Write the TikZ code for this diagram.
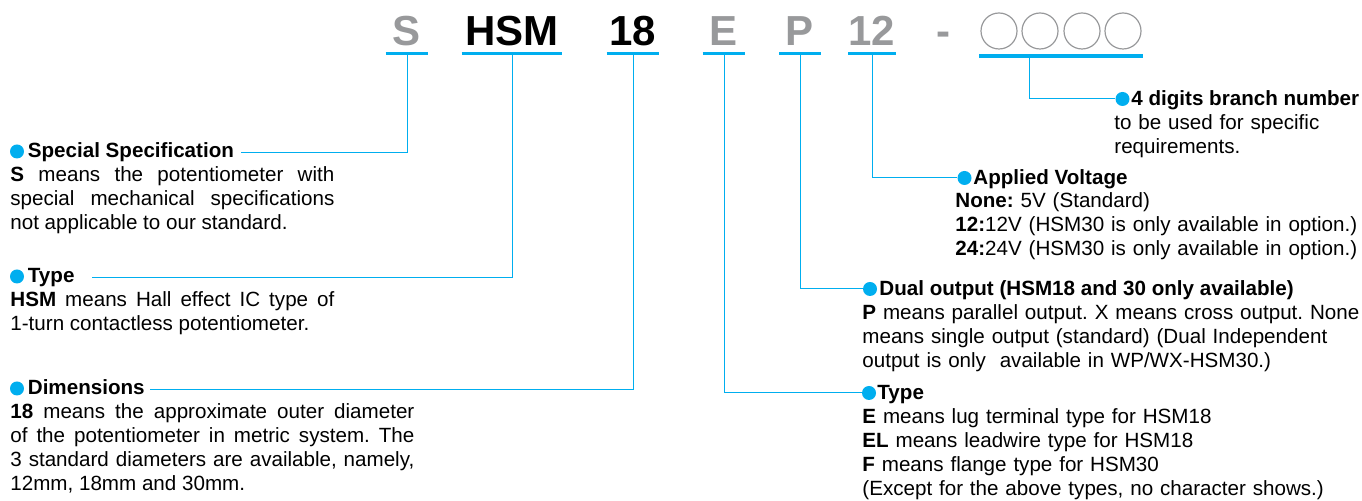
\documentclass[tikz,border=0pt]{standalone}
\usepackage{fontspec}
\setmainfont{Liberation Sans}
\frenchspacing

\definecolor{hallblue}{HTML}{00AEEF}
\definecolor{codegray}{HTML}{98999B}

\tikzset{
  code/.style={font=\fontsize{21}{25}\selectfont\bfseries, inner sep=0pt, anchor=base},
  slot/.style={circle, draw=codegray, line width=0.6pt, minimum size=18pt, inner sep=0pt},
  uline/.style={hallblue, line width=1.8pt},
  link/.style={hallblue, line width=0.5pt},
  bullet/.style={circle, fill=hallblue, inner sep=0pt, minimum size=7pt},
  head/.style={font=\fontsize{10.3}{12}\selectfont\bfseries, inner sep=0pt, anchor=base west,
    text height=7.4pt, text depth=2.2pt},
  body/.style={font=\fontsize{10.3}{12}\selectfont, inner sep=0pt, anchor=base west},
  justbody/.style={body, align=justify, text width=#1},
  ragbody/.style={body, align=left, text width=#1}
}

\begin{document}
\begin{tikzpicture}[x=0.5pt, y=-0.5pt]
  \useasboundingbox (0,0) rectangle (1362,501);

  % part number
  \node[code, text=codegray, minimum width=21pt] (cS) at (407,46) {S};
  \node[code, minimum width=50pt] (cHSM) at (512,46) {HSM};
  \node[code, minimum width=26pt] (c18) at (633,46) {18};
  \node[code, text=codegray, minimum width=21pt] (cE) at (724,46) {E};
  \node[code, text=codegray, minimum width=20.5pt] (cP) at (800,46) {P};
  \node[code, text=codegray, minimum width=20.5pt] (c12) at (872,46) {12};
  \node[code, text=codegray] (cDash) at (943,46) {-};
  \foreach \i/\x in {1/999,2/1040,3/1082,4/1123}
    \node[slot] (cB\i) at (\x,31) {};

  \foreach \n in {cS,cHSM,c18,cE,cP,c12}
    \draw[uline] ([yshift=-3.75pt]\n.base west) -- ([yshift=-3.75pt]\n.base east);
  \draw[uline] ([xshift=-0.5pt,yshift=-12.5pt]cB1.west) -- ([xshift=0.5pt,yshift=-12.5pt]cB4.east);

  % left side
  \node[bullet] (dSpec) at (17,151.5) {};
  \node[head] (hSpec) at (27.5,158) {Special Specification};
  \node[justbody=162pt] (bSpec) at (10,182)
    {\textbf{S} means the potentiometer with\linebreak special mechanical specifications\linebreak not applicable to our standard.};

  \node[bullet] (dType) at (17,276.5) {};
  \node[head] (hType) at (27.5,283) {Type};
  \node[justbody=162pt] (bType) at (10,307)
    {\textbf{HSM} means Hall effect IC type of\linebreak 1-turn contactless potentiometer.};

  \node[bullet] (dDim) at (17,388.5) {};
  \node[head] (hDim) at (27.5,395) {Dimensions};
  \node[justbody=202pt] (bDim) at (10,419)
    {\textbf{18} means the approximate outer diameter\linebreak of the potentiometer in metric system. The\linebreak 3 standard diameters are available, namely,\linebreak 12mm, 18mm and 30mm.};

  \draw[link] ([yshift=-4.75pt]cS.base) |- ([xshift=3.5pt]hSpec.east);
  \draw[link] ([yshift=-4.75pt]cHSM.base) |- ([xshift=8.5pt]hType.east);
  \draw[link] ([yshift=-4.75pt]c18.base) |- ([xshift=2.5pt]hDim.east);

  % right side
  \node[bullet] (dBranch) at (1122.5,99) {};
  \node[head] (hBranch) at (1131,106) {4 digits branch number};
  \node[ragbody=200pt] (bBranch) at (1114,130) {to be used for specific\\requirements.};

  \node[bullet] (dVolt) at (964.5,178) {};
  \node[head] (hVolt) at (973,185) {Applied Voltage};
  \node[ragbody=240pt] (bVolt) at (955,208)
    {\textbf{None:} 5V (Standard)\\\textbf{12:}12V (HSM30 is only available in option.)\\\textbf{24:}24V (HSM30 is only available in option.)};

  \node[bullet] (dDual) at (870,289) {};
  \node[head] (hDual) at (879,296) {Dual output (HSM18 and 30 only available)};
  \node[ragbody=260pt] (bDual) at (862,320)
    {\textbf{P} means parallel output. X means cross output. None\\means single output (standard) (Dual Independent\\output is only\ \ available in WP/WX-HSM30.)};

  \node[bullet] (dTypeR) at (869,393) {};
  \node[head] (hTypeR) at (877,400) {Type};
  \node[ragbody=260pt] (bTypeR) at (862,424)
    {\textbf{E} means lug terminal type for HSM18\\\textbf{EL} means leadwire type for HSM18\\\textbf{F} means flange type for HSM30\\(Except for the above types, no character shows.)};

  \draw[link] ([shift={(30,25)}]cB1.center) |- (dBranch.west);
  \draw[link] ([yshift=-4.75pt]c12.base) |- (dVolt.west);
  \draw[link] ([yshift=-4.75pt]cP.base) |- (dDual.west);
  \draw[link] ([yshift=-4.75pt]cE.base) |- (dTypeR.west);
\end{tikzpicture}
\end{document}
